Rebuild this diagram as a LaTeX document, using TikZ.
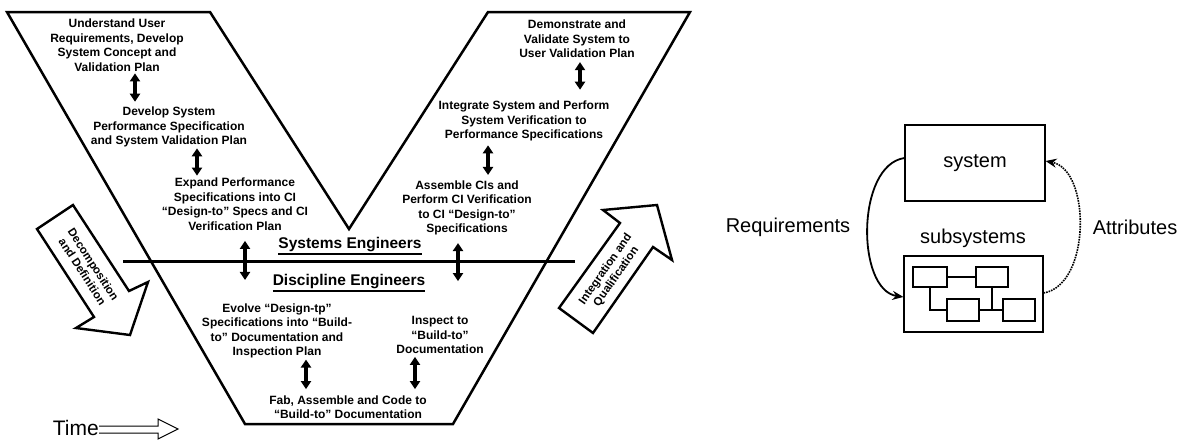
\documentclass[tikz,border=0pt]{standalone}
\usepackage{fontspec}
\setmainfont{Liberation Sans}
\usetikzlibrary{arrows.meta}
\newcommand\engul[1]{\vtop{\hbox{#1}\kern1.2pt\hrule height 1.6pt}}

\begin{document}
\begin{tikzpicture}[x=1pt,y=-1pt,
  vtext/.style={font=\fontsize{12}{14.5}\selectfont\bfseries, align=center, inner sep=1pt},
  team/.style={font=\fontsize{15.5}{18}\selectfont\bfseries, inner sep=1pt},
  dbl/.style={{Triangle[width=10pt,length=8pt]}-{Triangle[width=10pt,length=8pt]}, line width=3.4pt},
  blockarrow/.style={draw, fill=white, line width=2.4pt, line join=miter},
  plain/.style={font=\fontsize{20}{24}\selectfont, inner sep=1pt},
  bigbox/.style={draw, line width=1.1pt, minimum width=140pt, minimum height=76pt, inner sep=0pt},
  smallbox/.style={draw, line width=1.1pt, minimum width=33pt, minimum height=21pt, inner sep=0pt}]
\useasboundingbox (0,0) rectangle (1186,440);

% the V
\draw[line width=2.5pt, line join=miter] (7,12) -- (210,12) -- (349,229) -- (488,12) -- (690,12)
  -- (453,424) -- (245,424) -- cycle;
\draw[line width=3pt] (123,261) -- (575,261);

% left leg
\node[vtext] (und) at (117,45) {Understand User\\Requirements, Develop\\System Concept and\\Validation Plan};
\node[vtext] (perf) at (169,127) {Develop System\\Performance Specification\\and System Validation Plan};
\node[vtext] (expand) at (235,204) {Expand Performance\\Specifications into CI\\“Design-to” Specs and CI\\Verification Plan};

% right leg
\node[vtext] (demo) at (577,39) {Demonstrate and\\Validate System to\\User Validation Plan};
\node[vtext] (integ) at (524,121) {Integrate System and Perform\\System Verification to\\Performance Specifications};
\node[vtext] (assem) at (467,208) {Assemble CIs and\\Perform CI Verification\\to CI “Design-to”\\Specifications};

\node[team] (syseng) at (350,246) {\engul{Systems Engineers}};
\node[team] (disceng) at (349,283) {\engul{Discipline Engineers}};

% bottom
\node[vtext] (evolve) at (277,331) {Evolve “Design-tp”\\Specifications into “Build-\\to” Documentation and\\Inspection Plan};
\node[vtext] (inspect) at (440,335) {Inspect to\\“Build-to”\\Documentation};
\node[vtext] (fab) at (348,407) {Fab, Assemble and Code to\\“Build-to” Documentation};

\draw[dbl, shorten <=1pt, shorten >=4pt] (und.south -| 135,0) -- (perf.north -| 135,0);
\draw[dbl, shorten <=0pt, shorten >=1pt] (perf.south -| 197,0) -- (expand.north -| 197,0);
\draw[dbl, shorten <=9.5pt, shorten >=22.5pt] (expand.south -| 245,0) -- (evolve.north -| 245,0);
\draw[dbl, shorten <=3pt, shorten >=10pt] (demo.south -| 580,0) -- (integ.north -| 580,0);
\draw[dbl, shorten <=3pt, shorten >=4.5pt] (integ.south -| 488,0) -- (assem.north -| 488,0);
\draw[dbl, shorten <=6.5pt, shorten >=34pt] (assem.south -| 458,0) -- (inspect.north -| 458,0);
\draw[dbl, shorten <=0pt, shorten >=5pt] (evolve.south -| 306,0) -- (fab.north -| 306,0);
\draw[dbl, shorten <=2pt, shorten >=5pt] (inspect.south -| 415,0) -- (fab.north -| 415,0);

% block arrows
\draw[blockarrow] (37,229) -- (73,205) -- (129,291) -- (148,282) -- (130,335) -- (76,328) -- (94,317) -- cycle;
\node[vtext, rotate=-57, font=\fontsize{11.5}{13}\selectfont\bfseries] (decomp) at (88,268) {Decomposition\\and Definition};
\draw[blockarrow] (593,333) -- (559,308) -- (620,223) -- (603,210) -- (657,205) -- (672,260) -- (653,247) -- cycle;
\node[vtext, rotate=55, font=\fontsize{11.5}{13}\selectfont\bfseries] (integq) at (611,273) {Integration and\\Qualification};

% time
\node[plain, anchor=east, inner sep=0pt, font=\fontsize{21}{24}\selectfont] (time) at (99,428) {Time};
\draw[line width=1pt] (time.east |- 0,426) -- (158,426) -- (158,419) -- (178,429) -- (158,439) -- (158,433)
  -- (time.east |- 0,433);

% system / subsystems
\node[bigbox] (sys) at (975,163) {};
\node[plain] at (sys) {system};
\node[plain] (subl) at (973,238) {subsystems};
\node[bigbox, minimum width=139pt] (sub) at (973.5,294) {};
\node[smallbox, minimum width=34pt, minimum height=20pt] (ba) at (930,277) {};
\node[smallbox, minimum width=32pt, minimum height=20pt] (bb) at (992,277) {};
\node[smallbox, minimum width=32pt, minimum height=22pt] (bc) at (963,310) {};
\node[smallbox, minimum width=32pt, minimum height=22pt] (bd) at (1019,310) {};
\draw[line width=1.1pt] (ba) -- (bb);
\draw[line width=1.1pt] (ba.south) |- (bc.west);
\draw[line width=1.1pt] (bc) -- (bd);
\draw[line width=1.1pt] (bb.south) -- (bb.south |- bc.east);

\draw[line width=1.8pt, -{Stealth[length=11pt,width=9pt]}] (sys.west |- 0,158) .. controls (856,165) and (856,290) .. (sub.west |- 0,297);
\draw[line width=1.6pt, densely dotted, -{Stealth[length=11pt,width=9pt]}] (sub.east |- 0,293) .. controls (1091,285) and (1091,170) .. (sys.east |- 0,161);
\node[plain] (req) at (788,227) {Requirements};
\node[plain] (attr) at (1135,227) {Attributes};
\end{tikzpicture}
\end{document}
